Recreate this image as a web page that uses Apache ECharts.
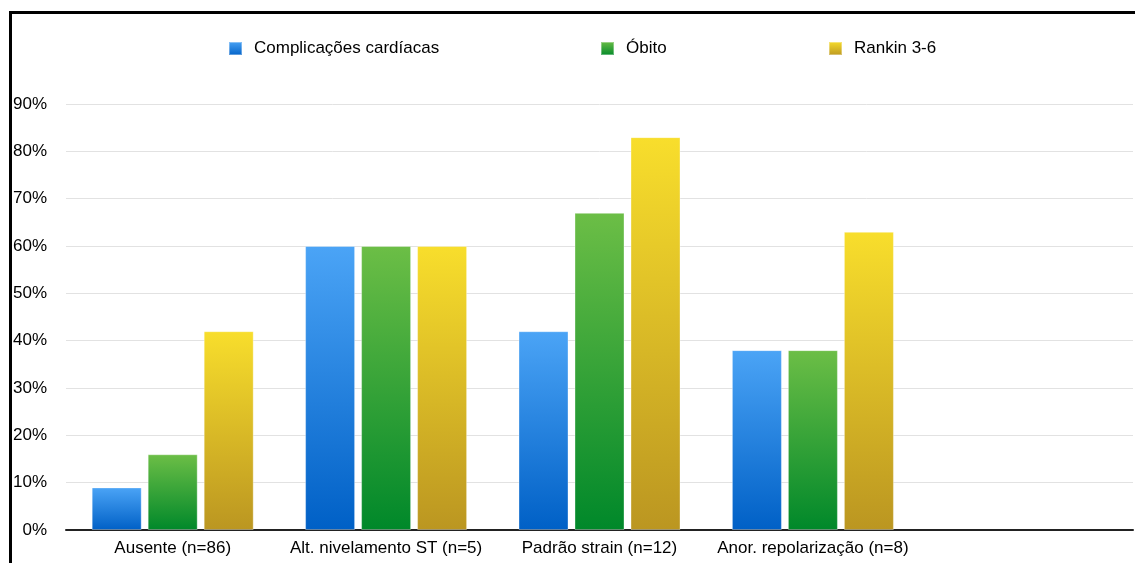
<!DOCTYPE html>
<html>
<head>
<meta charset="utf-8">
<script src="https://cdn.jsdelivr.net/npm/echarts@6/dist/echarts.min.js"></script>
<style>
  html, body { margin: 0; padding: 0; background: #fff; }
  #frame {
    position: absolute; left: 9px; top: 11px; width: 1200px; height: 700px;
    border-top: 3px solid #000; border-left: 3px solid #000;
  }
  #chart { position: absolute; left: 0; top: 0; width: 1135px; height: 563px; }
</style>
</head>
<body>
<div id="frame"></div>
<div id="chart"></div>
<script>
// dados
const categories = ['Ausente (n=86)', 'Alt. nivelamento ST (n=5)', 'Padrão strain (n=12)', 'Anor. repolarização (n=8)', ''];
const seriesNames = ['Complicações cardíacas', 'Óbito', 'Rankin 3-6'];
const complicacoes = [9, 60, 42, 38, null];
const obito = [16, 60, 67, 38, null];
const rankin = [42, 60, 83, 63, null];

const font = '"Liberation Sans", Arial, sans-serif';

function grad(top, bottom) {
  return new echarts.graphic.LinearGradient(0, 0, 0, 1, [
    { offset: 0, color: top },
    { offset: 1, color: bottom }
  ]);
}

const colors = [
  ['#4ba4f6', '#0060c6'],
  ['#6cbe46', '#00882a'],
  ['#f8de2c', '#bb9621']
];
const legendLeft = [228, 600, 828];

var myChart = echarts.init(document.getElementById('chart'));

const option = {
  animation: false,
  legend: seriesNames.map((n, i) => ({
    data: [n],
    left: legendLeft[i],
    top: 40,
    padding: 0,
    itemWidth: 13,
    itemHeight: 13,
    icon: 'rect',
    textStyle: { fontFamily: font, fontSize: 17, color: '#000', padding: [0, 0, 0, 7] }
  })),
  grid: { left: 66, right: 2, top: 104, bottom: 33 },
  xAxis: {
    type: 'category',
    data: categories,
    axisLine: { lineStyle: { color: '#222', width: 2 } },
    axisTick: { show: false },
    axisLabel: { fontFamily: font, fontSize: 17, color: '#000', margin: 10, interval: 0 }
  },
  yAxis: {
    type: 'value',
    min: 0,
    max: 90,
    interval: 10,
    axisLine: { show: false },
    axisTick: { show: false },
    splitLine: { lineStyle: { color: '#e2e2e2', width: 1 } },
    axisLabel: {
      fontFamily: font, fontSize: 17, color: '#000',
      margin: 19,
      formatter: '{value}%'
    }
  },
  series: [complicacoes, obito, rankin].map((d, i) => ({
    name: seriesNames[i],
    type: 'bar',
    data: d,
    barWidth: 50,
    barGap: '12%',
    itemStyle: {
      color: grad(colors[i][0], colors[i][1]),
      borderColor: 'rgba(255,255,255,0.35)',
      borderWidth: 1
    }
  }))
};

myChart.setOption(option);
</script>
</body>
</html>
